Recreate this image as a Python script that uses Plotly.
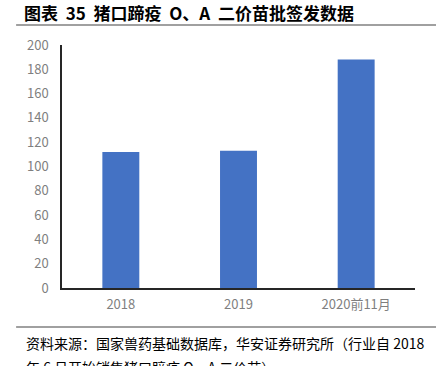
import plotly.graph_objects as go

categories = ["2018", "2019", "2020前11月"]
values = [112, 113, 188]
y_ticks = [0, 20, 40, 60, 80, 100, 120, 140, 160, 180, 200]

title_text = "图表 35 猪口蹄疫 O、A 二价苗批签发数据"
source_text = "资料来源：国家兽药基础数据库，华安证券研究所（行业自 2018"
source_text2 = "年 6 月开始销售猪口蹄疫 O、A 二价苗）"

fig = go.Figure()
fig.add_trace(go.Bar(x=categories, y=values, marker=dict(color="#4472C4", line=dict(width=0))))

font_cjk = "Noto Sans CJK SC"
PH = 243.0
fig.update_layout(
    width=436, height=366,
    margin=dict(l=62, r=21, t=45, b=78),
    paper_bgcolor="white", plot_bgcolor="white",
    bargap=0.686,
    showlegend=False,
    font=dict(family=font_cjk, color="#7f7f7f", size=13),
    xaxis=dict(showline=True, linecolor="#262626", linewidth=1.5, showgrid=False,
               ticks="outside", ticklen=4, tickcolor="rgba(0,0,0,0)",
               tickfont=dict(size=13, color="#7f7f7f")),
    yaxis=dict(range=[0, 200], tickvals=y_ticks, showline=True, linecolor="#262626",
               linewidth=1.5, showgrid=False, zeroline=False,
               ticks="outside", ticklen=9, tickcolor="rgba(0,0,0,0)",
               tickfont=dict(size=13, color="#7f7f7f")),
    shapes=[
        dict(type="line", xref="paper", yref="paper", x0=-0.13, x1=1.06,
             y0=1 + 20 / PH, y1=1 + 20 / PH, line=dict(color="#808080", width=1.5)),
        dict(type="line", xref="paper", yref="paper", x0=-0.13, x1=1.06,
             y0=-39 / PH, y1=-39 / PH, line=dict(color="#808080", width=1.5)),
    ],
    annotations=[
        dict(text="<b>" + title_text.replace(" ", "  ") + "</b>", xref="paper", yref="paper",
             x=(22 - 62) / 353, y=1 + 33 / PH, xanchor="left", yanchor="middle", showarrow=False,
             font=dict(size=17, color="#000000", family=font_cjk)),
        dict(text=source_text, xref="paper", yref="paper",
             x=(24 - 62) / 353, y=-55 / PH, xanchor="left", yanchor="middle", showarrow=False,
             font=dict(size=14, color="#000000", family=font_cjk)),
        dict(text=source_text2, xref="paper", yref="paper",
             x=(24 - 62) / 353, y=-79 / PH, xanchor="left", yanchor="middle", showarrow=False,
             font=dict(size=14, color="#000000", family=font_cjk)),
    ],
)

fig.write_html("out.html", config={"displayModeBar": False},
               post_script="document.body.style.margin='0';")
